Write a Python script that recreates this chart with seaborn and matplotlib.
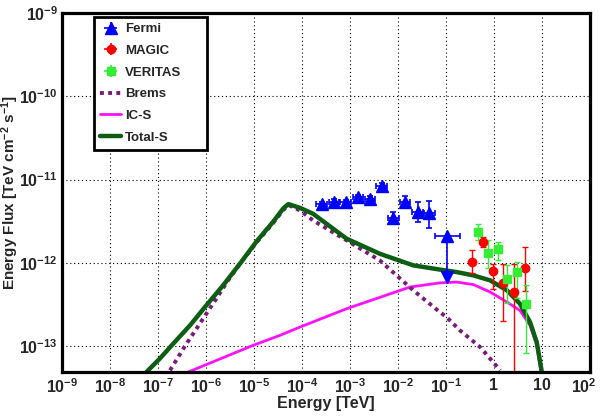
import numpy as np
import pandas as pd
import matplotlib
matplotlib.use("Agg")
import matplotlib.pyplot as plt
import matplotlib.transforms as mtransforms
import seaborn as sns
from matplotlib.ticker import FixedLocator, FixedFormatter, LogLocator, NullFormatter
from matplotlib.lines import Line2D
from matplotlib.legend_handler import HandlerErrorbar

# ---------------- data ----------------
# Fermi-LAT points
fermi_e = [2.57e-4, 4.64e-4, 8.13e-4, 1.45e-3, 2.61e-3, 4.57e-3, 7.98e-3, 1.40e-2, 2.57e-2, 4.49e-2]
fermi_elo = [2.0e-4, 3.6e-4, 6.3e-4, 1.13e-3, 2.03e-3, 3.55e-3, 6.2e-3, 1.09e-2, 2.0e-2, 3.49e-2]
fermi_ehi = [3.31e-4, 5.98e-4, 1.05e-3, 1.87e-3, 3.36e-3, 5.89e-3, 1.03e-2, 1.80e-2, 3.31e-2, 5.78e-2]
fermi_f = [5.03e-12, 5.41e-12, 5.32e-12, 6.11e-12, 5.83e-12, 8.35e-12, 3.42e-12, 5.32e-12, 4.04e-12, 3.93e-12]
fermi_flo = [4.65e-12, 5.0e-12, 4.92e-12, 5.65e-12, 5.4e-12, 7.75e-12, 2.9e-12, 4.51e-12, 3.11e-12, 2.6e-12]
fermi_fhi = [5.45e-12, 5.85e-12, 5.75e-12, 6.6e-12, 6.3e-12, 9.0e-12, 4.1e-12, 6.38e-12, 5.32e-12, 5.52e-12]
# Fermi upper limit
ul_e = [0.106]
ul_elo = [0.059]
ul_ehi = [0.196]
ul_f = [2.11e-12]
ul_f_end = [6.8e-13]

# MAGIC points
magic_e = [0.353, 0.582, 0.966, 1.56, 2.61, 4.42]
magic_f = [1.03e-12, 1.79e-12, 7.96e-13, 5.75e-13, 4.42e-13, 8.57e-13]
magic_fhi = [1.42e-12, 2.06e-12, 9.8e-13, 9.57e-13, 9.57e-13, 1.56e-12]
magic_flo = [7.46e-13, 1.56e-12, 4.9e-13, 2.0e-13, 1e-15, 4.6e-13]

# VERITAS points
veritas_e = [0.471, 0.74, 1.19, 1.84, 2.97, 4.64]
veritas_f = [2.36e-12, 1.32e-12, 1.45e-12, 6.38e-13, 7.8e-13, 3.17e-13]
veritas_fhi = [2.9e-12, 1.88e-12, 1.79e-12, 9.4e-13, 1.03e-12, 5.41e-13]
veritas_flo = [1.88e-12, 8.57e-13, 1.08e-12, 3.26e-13, 3.74e-13, 8.2e-14]

# Model curves (log10 E [TeV], log10 flux)
brems_loge = [-6.75, -6.44, -6.13, -5.81, -5.54, -5.29, -4.94, -4.60, -4.39, -4.285, -4.04,
              -3.77, -3.07, -2.38, -1.68, -1.13, -0.99, -0.71, -0.29, 0.13]
brems_logf = [-13.29, -13.00, -12.73, -12.45, -12.21, -12.01, -11.75, -11.52, -11.365, -11.305, -11.37,
              -11.49, -11.73, -11.97, -12.33, -12.59, -12.65, -12.81, -13.01, -13.29]

ics_loge = [-6.37, -5.02, -4.46, -4.04, -3.07, -1.75, -1.13, -0.78, -0.43, -0.08, 0.27, 0.54, 0.75, 0.89, 0.98]
ics_logf = [-13.31, -12.99, -12.87, -12.77, -12.55, -12.29, -12.24, -12.23, -12.26, -12.35, -12.47,
            -12.57, -12.75, -12.99, -13.31]

total_loge = [-7.24, -6.96, -6.68, -6.33, -5.99, -5.64, -5.29, -4.94, -4.60, -4.39, -4.285, -4.04,
              -3.77, -3.07, -2.38, -1.68, -1.13, -0.78, -0.43, -0.08, 0.27, 0.54, 0.75, 0.89, 0.99, 1.01]
total_logf = [-13.31, -13.148, -12.968, -12.748, -12.508, -12.267, -12.007, -11.737, -11.506, -11.346,
              -11.294, -11.34, -11.41, -11.71, -11.89, -12.03, -12.08, -12.11, -12.15, -12.21, -12.33,
              -12.49, -12.71, -12.95, -13.29, -13.40]

xtick_vals = [1e-9, 1e-8, 1e-7, 1e-6, 1e-5, 1e-4, 1e-3, 1e-2, 1e-1, 1, 10, 100]
xtick_labels = [r"$10^{-9}$", r"$10^{-8}$", r"$10^{-7}$", r"$10^{-6}$", r"$10^{-5}$", r"$10^{-4}$",
                r"$10^{-3}$", r"$10^{-2}$", r"$10^{-1}$", "1", "10", r"$10^{2}$"]
ytick_vals = [1e-13, 1e-12, 1e-11, 1e-10, 1e-9]
ytick_labels = [r"$10^{-13}$", r"$10^{-12}$", r"$10^{-11}$", r"$10^{-10}$", r"$10^{-9}$"]
legend_labels = ["Fermi", "MAGIC", "VERITAS", "Brems", "IC-S", "Total-S"]

# ---------------- style ----------------
sns.set_theme(style="white")
plt.rcParams["font.family"] = ["Liberation Sans", "DejaVu Sans"]
plt.rcParams["font.weight"] = "bold"
plt.rcParams["axes.labelweight"] = "bold"
plt.rcParams["mathtext.fontset"] = "custom"
plt.rcParams["mathtext.rm"] = "Liberation Sans:bold"
plt.rcParams["mathtext.bf"] = "Liberation Sans:bold"
plt.rcParams["mathtext.it"] = "Liberation Sans:bold:italic"
plt.rcParams["mathtext.sf"] = "Liberation Sans:bold"
plt.rcParams["mathtext.default"] = "rm"

C_FERMI = "#0000ff"
C_MAGIC = "#ff0000"
C_VERITAS = "#33ee33"
C_BREMS = "#7a1a7a"
C_ICS = "#ff10ff"
C_TOTAL = "#0d5e12"

fig = plt.figure(figsize=(6.0, 4.16), dpi=100)
ax = fig.add_axes([62 / 600, 1 - 372 / 416, 528 / 600, 359 / 416])
ax.set_xscale("log")
ax.set_yscale("log")
ax.set_xlim(1e-9, 1e2)
ax.set_ylim(4.9e-14, 1e-9)

# curves
df_b = pd.DataFrame({"E": 10 ** np.array(brems_loge), "F": 10 ** np.array(brems_logf)})
df_i = pd.DataFrame({"E": 10 ** np.array(ics_loge), "F": 10 ** np.array(ics_logf)})
df_t = pd.DataFrame({"E": 10 ** np.array(total_loge), "F": 10 ** np.array(total_logf)})

sns.lineplot(data=df_i, x="E", y="F", ax=ax, color=C_ICS, lw=2.0, estimator=None, sort=False, zorder=3)
sns.lineplot(data=df_b, x="E", y="F", ax=ax, color=C_BREMS, lw=2.8, estimator=None, sort=False,
             linestyle=(0, (1, 1.1)), zorder=3)
sns.lineplot(data=df_t, x="E", y="F", ax=ax, color=C_TOTAL, lw=3.2, estimator=None, sort=False, zorder=4)

# data points
fe = np.array(fermi_e); ff = np.array(fermi_f)
ax.errorbar(fe, ff,
            xerr=[fe - np.array(fermi_elo), np.array(fermi_ehi) - fe],
            yerr=[ff - np.array(fermi_flo), np.array(fermi_fhi) - ff],
            fmt="^", color=C_FERMI, ms=8, elinewidth=1.2, capsize=2, capthick=1.2, zorder=6)
ue = np.array(ul_e); uf = np.array(ul_f)
ax.errorbar(ue, uf, xerr=[ue - np.array(ul_elo), np.array(ul_ehi) - ue],
            fmt="^", color=C_FERMI, ms=8, elinewidth=1.2, capsize=2, capthick=1.2, zorder=6)
ax.vlines(ul_e, ul_f_end, ul_f, color=C_FERMI, lw=1.2, zorder=6)
ax.plot(ul_e, ul_f_end, "v", color=C_FERMI, ms=8, zorder=6)

me = np.array(magic_e); mf = np.array(magic_f)
ax.errorbar(me, mf, yerr=[mf - np.array(magic_flo), np.array(magic_fhi) - mf],
            fmt="o", color=C_MAGIC, ms=6, elinewidth=1.0, capsize=2, capthick=1.0, zorder=5)
ve = np.array(veritas_e); vf = np.array(veritas_f)
ax.errorbar(ve, vf, yerr=[vf - np.array(veritas_flo), np.array(veritas_fhi) - vf],
            fmt="s", color=C_VERITAS, ms=6, elinewidth=1.0, capsize=2, capthick=1.0, zorder=5)

# axes styling
ax.xaxis.set_major_locator(FixedLocator(xtick_vals))
ax.xaxis.set_major_formatter(FixedFormatter(xtick_labels))
ax.yaxis.set_major_locator(FixedLocator(ytick_vals))
ax.yaxis.set_major_formatter(FixedFormatter(ytick_labels))
ax.xaxis.set_minor_locator(LogLocator(base=10, subs=np.arange(2, 10), numticks=200))
ax.yaxis.set_minor_locator(LogLocator(base=10, subs=np.arange(2, 10), numticks=200))
ax.xaxis.set_minor_formatter(NullFormatter())
ax.yaxis.set_minor_formatter(NullFormatter())
ax.tick_params(which="both", direction="in", top=False, right=False, color="black", width=1.1)
ax.tick_params(axis="x", which="major", length=6, pad=4, labelsize=11.5)
ax.tick_params(axis="x", which="minor", length=3.5)
ax.tick_params(axis="y", which="major", length=9, pad=3, labelsize=11.5)
ax.tick_params(axis="y", which="minor", length=5.5)
for lab in ax.get_xticklabels() + ax.get_yticklabels():
    lab.set_fontweight("bold")
# keep the last x label inside the figure
last = ax.get_xticklabels()[-1]
last.set_transform(last.get_transform() + mtransforms.ScaledTranslation(-6 / 100, 0, fig.dpi_scale_trans))

ax.grid(True, which="major", color="black", linestyle=(0, (1, 2.5)), linewidth=0.8)
ax.set_axisbelow(False)
for s in ax.spines.values():
    s.set_visible(True)
    s.set_linewidth(2.3)
    s.set_color("black")
    s.set_zorder(10)

ax.set_xlabel("Energy [TeV]", fontsize=11.5, fontweight="bold")
ax.set_ylabel(r"Energy Flux [TeV cm$^{-2}$ s$^{-1}$]", fontsize=11, fontweight="bold")
ax.xaxis.set_label_coords(0.5, -0.068)
ax.yaxis.set_label_coords(-0.077, 0.5)

# legend (proxy handles in ROOT "LPE" style)
nan = [np.nan]
p_fermi = ax.errorbar(nan, nan, xerr=[[1], [1]], yerr=[[1], [1]], fmt="^", color=C_FERMI, ms=8,
                      elinewidth=1.2, capsize=0)
p_magic = ax.errorbar(nan, nan, xerr=[[1], [1]], yerr=[[1], [1]], fmt="o", color=C_MAGIC, ms=6,
                      elinewidth=1.2, capsize=0)
p_veritas = ax.errorbar(nan, nan, xerr=[[1], [1]], yerr=[[1], [1]], fmt="s", color=C_VERITAS, ms=6,
                        elinewidth=1.2, capsize=0)
h_brems = Line2D([], [], color=C_BREMS, lw=2.8, linestyle=(0, (1, 1.1)))
h_ics = Line2D([], [], color=C_ICS, lw=2.0)
h_total = Line2D([], [], color=C_TOTAL, lw=3.2)
leg = ax.legend([p_fermi, p_magic, p_veritas, h_brems, h_ics, h_total], legend_labels,
                loc="upper left", bbox_to_anchor=(0.061, 0.989, 0.214, 0.0), mode="expand",
                fontsize=9.5, frameon=True, fancybox=False, framealpha=1, edgecolor="black",
                handlelength=1.6, handletextpad=0.3, labelspacing=0.72, borderpad=0.45,
                borderaxespad=0, handler_map={type(p_fermi): HandlerErrorbar(xerr_size=0.5, yerr_size=0.45)})
leg.get_frame().set_linewidth(2.0)
for t in leg.get_texts():
    t.set_fontweight("bold")
leg.set_zorder(20)

fig.savefig("out.png", dpi=100, facecolor="white")
